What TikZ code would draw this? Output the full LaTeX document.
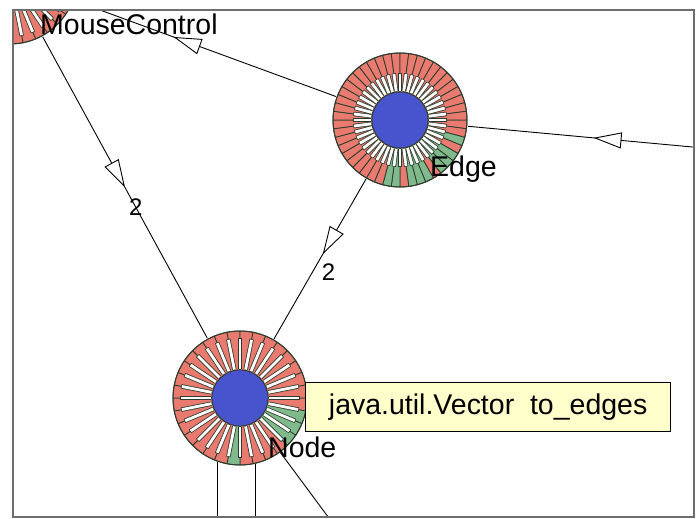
\documentclass[tikz,border=0pt]{standalone}
\usepackage{fontspec}
\setmainfont{Liberation Sans}
\usepackage{tikz}
\usetikzlibrary{positioning, calc, arrows.meta, decorations.markings}

\definecolor{wedgered}{RGB}{232,122,112}
\definecolor{wedgegreen}{RGB}{128,186,140}
\definecolor{wedgeline}{RGB}{45,60,45}
\definecolor{coreblue}{RGB}{72,84,206}
\definecolor{tipyellow}{RGB}{255,255,204}
\definecolor{framegray}{RGB}{110,110,110}

% wheel of a class: #1 centre, #2 wedges, #3 spoke end, #4 test for green
\newcommand\drawwheel[4]{%
  \begin{scope}[shift={(#1)}]
    \pgfmathsetmacro\s{360/#2}
    \foreach \i in {1,...,#2}{
      \pgfmathsetmacro\a{(\i-1)*\s}
      \pgfmathtruncatemacro\isgreen{#4}
      \ifnum\isgreen=1 \def\wc{wedgegreen}\else\def\wc{wedgered}\fi
      \filldraw[fill=\wc, draw=wedgeline, line width=0.8]
        (\a:28) arc[start angle=\a, end angle=\a+\s, radius=28]
        -- (\a+\s:67) arc[start angle=\a+\s, end angle=\a, radius=67] -- cycle;
    }
    \foreach \i in {1,...,#2}{
      \pgfmathsetmacro\a{(\i-1)*\s}
      \draw[wedgeline, line width=4.4] (\a:29) -- (\a:#3);
      \draw[white, line width=2.8] (\a:29) -- (\a:#3-0.7);
    }
    \filldraw[fill=coreblue, draw=wedgeline, line width=0.8] (0,0) circle[radius=28];
    \draw[wedgeline, line width=1] (0,0) circle[radius=67];
  \end{scope}}

\begin{document}
\begin{tikzpicture}[x=1pt, y=-1pt,
    classnode/.style={circle, minimum size=136pt, inner sep=0pt},
    lbl/.style={anchor=base west, inner sep=0pt, font=\fontsize{28.5}{32}\selectfont},
    mult/.style={inner sep=1pt, font=\fontsize{24}{28}\selectfont},
    conn/.style={draw=black, line width=0.9},
    midarrow/.style={postaction={decorate}, decoration={markings,
        mark=at position #1 with {\arrow{Triangle[length=28pt, width=16pt, fill=white, line width=0.9]}}}},
    tipbox/.style={draw, line width=0.9, fill=tipyellow, minimum width=365pt, minimum height=49pt,
        inner sep=0pt, font=\fontsize{28.5}{32}\selectfont}]
    \useasboundingbox (0,0) rectangle (697,519);

    % classes
    \node[classnode] (mousectl) at (10,-23) {};
    \node[classnode] (edgecls) at (400,120) {};
    \node[classnode] (nodecls) at (240,398) {};
    \coordinate (farcls) at (790,156);
    \coordinate (down1) at (218,560);
    \coordinate (down2) at (255,560);
    \coordinate (down3) at (360,560);

    \begin{scope}
        \clip (13,10) rectangle (694,517);
        \drawwheel{mousectl}{32}{60}{0}
        \drawwheel{edgecls}{48}{47}{(\a>10 && \a<100 && mod(\i,4)!=0)}
        \drawwheel{nodecls}{32}{60}{((\a>0 && \a<40) || (\a>80 && \a<95))}

        % connectors
        \draw[conn, midarrow=0.5] (mousectl) -- (nodecls) node[mult, pos=0.565] {2};
        \draw[conn, midarrow=0.47] (edgecls) -- (nodecls) node[mult, pos=0.58, xshift=16pt] {2};
        \draw[conn, midarrow=0.62] (edgecls) -- (mousectl);
        \draw[conn, midarrow=0.61] (farcls) -- (edgecls);
        \draw[conn] (nodecls.-109) -- (nodecls.-109 |- down1);
        \draw[conn] (nodecls.-77) -- (nodecls.-77 |- down2);
        \draw[conn] (nodecls) -- (down3);

        % names
        \node[lbl] (mouselbl) at ([shift={(30,58)}]mousectl.center) {MouseControl};
        \node[lbl] (edgelbl) at ([shift={(30,56)}]edgecls.center) {Edge};
        \node[lbl] (nodelbl) at ([shift={(28,59)}]nodecls.center) {Node};
    \end{scope}

    % tooltip
    \node[tipbox, anchor=west] (tooltip) at ([shift={(-3,9)}]nodecls.east) {java.util.Vector\ \ to\_edges};

    % frame
    \draw[framegray, line width=1.6] (13,10) rectangle (694,517);
\end{tikzpicture}
\end{document}
